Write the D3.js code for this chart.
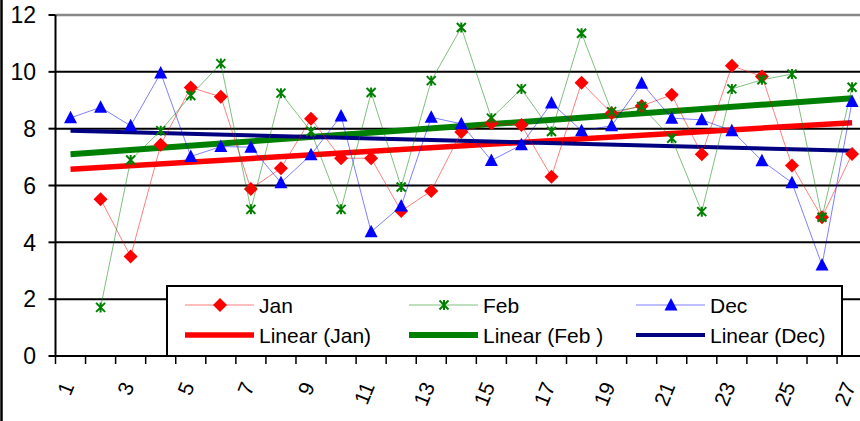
<!DOCTYPE html>
<html>
<head>
  <meta charset="utf-8">
  <title>Jan / Feb / Dec</title>
  <script src="https://d3js.org/d3.v7.min.js"></script>
  <style>
    body { margin: 0; background: white; }
    svg { display: block; }
    text { font-family: 'Liberation Sans', Arial, sans-serif; fill: black; }
  </style>
</head>
<body>
  <svg id="chart"></svg>

  <script type="text/javascript">
    // data
    var days = d3.range(1, 28);
    var janVals = [null, 5.52, 3.5, 7.43, 9.45, 9.12, 5.88, 6.61, 8.35, 6.96, 6.96, 5.1, 5.81, 7.88, 8.19, 8.13, 6.31, 9.62, 8.54, 8.8, 9.19, 7.1, 10.21, 9.84, 6.7, 4.88, 7.11];
    var febVals = [null, 1.71, 6.9, 7.93, 9.17, 10.29, 5.16, 9.25, 7.9, 5.16, 9.27, 5.95, 9.69, 11.56, 8.37, 9.4, 7.9, 11.36, 8.6, 8.78, 7.66, 5.08, 9.4, 9.72, 9.92, 4.88, 9.46];
    var decVals = [8.38, 8.75, 8.1, 9.96, 7.02, 7.37, 7.35, 6.1, 7.08, 8.45, 4.37, 5.28, 8.4, 8.17, 6.88, 7.43, 8.9, 7.93, 8.1, 9.6, 8.37, 8.31, 7.93, 6.87, 6.1, 3.2, 8.96];
    // trend line values at day 1 and day 27
    var janTrend = [6.57, 8.21];
    var febTrend = [7.1, 9.07];
    var decTrend = [7.93, 7.22];
    var yTicks = [0, 2, 4, 6, 8, 10, 12];

    var width = 860;
    var height = 421;
    var plotLeft = 55.5, plotTop = 15, plotBottom = 356;

    var svg = d3.select("#chart").attr("width", width).attr("height", height);

    var x = d3.scaleBand().domain(days).range([plotLeft, plotLeft + 27 * 30.06]);
    var y = d3.scaleLinear().domain([0, 12]).range([plotBottom, plotTop]);
    var cx = d => x(d) + x.bandwidth() / 2;

    // outer chart border on the left
    svg.append("line").attr("x1", 1.5).attr("x2", 1.5).attr("y1", 0).attr("y2", height)
      .attr("stroke", "#000").attr("stroke-width", 2.5);

    // gridlines
    svg.append("g").selectAll("line")
      .data(yTicks.filter(t => t > 0 && t < 12))
      .enter().append("line")
      .attr("x1", plotLeft).attr("x2", width)
      .attr("y1", d => y(d)).attr("y2", d => y(d))
      .attr("stroke", "#000").attr("stroke-width", 2);

    // top border of plot area
    svg.append("line").attr("x1", plotLeft).attr("x2", width).attr("y1", y(12)).attr("y2", y(12))
      .attr("stroke", "#888").attr("stroke-width", 2.5);

    // y axis
    var yAxis = svg.append("g");
    yAxis.append("line").attr("x1", plotLeft).attr("x2", plotLeft).attr("y1", y(12)).attr("y2", plotBottom)
      .attr("stroke", "#000").attr("stroke-width", 2);
    yAxis.selectAll(".tick").data(yTicks).enter().append("line")
      .attr("x1", plotLeft - 7).attr("x2", plotLeft).attr("y1", d => y(d)).attr("y2", d => y(d))
      .attr("stroke", "#000").attr("stroke-width", 2);
    yAxis.selectAll("text").data(yTicks).enter().append("text")
      .attr("x", 36).attr("y", d => y(d)).attr("dy", "0.36em")
      .attr("text-anchor", "end").style("font-size", "23px")
      .text(d => d);

    // trend lines (under the data)
    var trendLine = d3.line().x(d => cx(d[0])).y(d => y(d[1]));
    var trends = [
      { vals: janTrend, color: "#ff0000", w: 5.5 },
      { vals: febTrend, color: "#008000", w: 6 },
      { vals: decTrend, color: "#000080", w: 4 }
    ];
    svg.append("g").selectAll("path").data(trends).enter().append("path")
      .attr("d", d => trendLine([[1, d.vals[0]], [27, d.vals[1]]]))
      .attr("fill", "none").attr("stroke", d => d.color).attr("stroke-width", d => d.w);

    // data series
    var valueLine = d3.line().defined(d => d[1] != null).x(d => cx(d[0])).y(d => y(d[1]));
    var diamond = "M0,-7L7,0L0,7L-7,0Z";
    var triangle = "M0,-7L6.5,5.5L-6.5,5.5Z";
    var star = "M-4.5,-4.5L4.5,4.5M-4.5,4.5L4.5,-4.5M0,-5L0,5";

    var series = [
      { name: "Jan", vals: janVals, color: "#ff0000", line: "#ff0000", marker: diamond, fill: true },
      { name: "Feb", vals: febVals, color: "#008000", line: "#008000", marker: star, fill: false },
      { name: "Dec", vals: decVals, color: "#0000ff", line: "#0000ff", marker: triangle, fill: true }
    ];

    series.forEach(s => {
      var pts = days.map((d, i) => [d, s.vals[i]]);
      svg.append("path").attr("d", valueLine(pts))
        .attr("fill", "none").attr("stroke", s.line).attr("stroke-width", 1).attr("stroke-opacity", 0.5);
      svg.append("g").selectAll("path").data(pts.filter(p => p[1] != null)).enter().append("path")
        .attr("d", s.marker)
        .attr("transform", p => `translate(${cx(p[0])},${y(p[1])})`)
        .attr("fill", s.fill ? s.color : "none")
        .attr("stroke", s.color).attr("stroke-width", s.fill ? 0 : 2);
    });

    // legend
    var lg = svg.append("g");
    lg.append("rect").attr("x", 167).attr("y", 286).attr("width", 675).attr("height", 70)
      .attr("fill", "white").attr("stroke", "#000").attr("stroke-width", 2);
    var legendItems = [
      { col: 0, row: 0, label: "Jan", s: series[0] },
      { col: 1, row: 0, label: "Feb", s: series[1] },
      { col: 2, row: 0, label: "Dec", s: series[2] },
      { col: 0, row: 1, label: "Linear (Jan)", t: trends[0] },
      { col: 1, row: 1, label: "Linear (Feb )", t: trends[1] },
      { col: 2, row: 1, label: "Linear (Dec)", t: trends[2] }
    ];
    var colX = [185, 409, 636];
    var rowY = [305, 335];
    legendItems.forEach(it => {
      var x0 = colX[it.col], y0 = rowY[it.row];
      if (it.s) {
        lg.append("line").attr("x1", x0).attr("x2", x0 + 69).attr("y1", y0).attr("y2", y0)
          .attr("stroke", it.s.line).attr("stroke-width", 1).attr("stroke-opacity", 0.5);
        lg.append("path").attr("d", it.s.marker)
          .attr("transform", `translate(${x0 + 35},${y0})`)
          .attr("fill", it.s.fill ? it.s.color : "none")
          .attr("stroke", it.s.color).attr("stroke-width", it.s.fill ? 0 : 2);
      } else {
        lg.append("line").attr("x1", x0).attr("x2", x0 + 69).attr("y1", y0).attr("y2", y0)
          .attr("stroke", it.t.color).attr("stroke-width", it.t.w);
      }
      lg.append("text").attr("x", x0 + 74).attr("y", y0).attr("dy", "0.36em")
        .style("font-size", "21px").text(it.label);
    });

    // x axis
    var xAxis = svg.append("g");
    xAxis.append("line").attr("x1", plotLeft).attr("x2", width).attr("y1", plotBottom).attr("y2", plotBottom)
      .attr("stroke", "#000").attr("stroke-width", 2);
    xAxis.selectAll(".tick").data(days).enter().append("line")
      .attr("x1", d => x(d)).attr("x2", d => x(d)).attr("y1", plotBottom).attr("y2", plotBottom + 8)
      .attr("stroke", "#000").attr("stroke-width", 1.5);
    xAxis.selectAll("text").data(days.filter(d => d % 2 == 1)).enter().append("text")
      .attr("transform", d => `translate(${cx(d) - 3},${plotBottom + 27}) rotate(-68)`)
      .attr("text-anchor", "end").attr("dy", "0.36em")
      .style("font-size", "21px")
      .text(d => d);
  </script>
</body>
</html>
